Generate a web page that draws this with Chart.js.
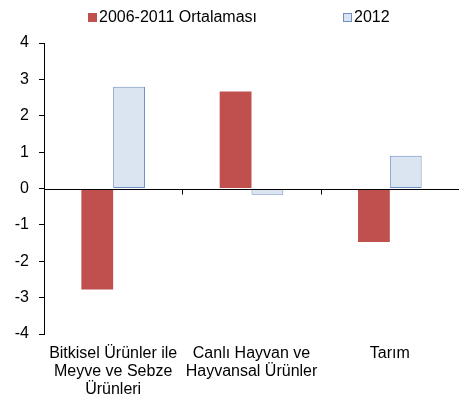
<!DOCTYPE html>
<html>
<head>
<meta charset="utf-8">
<script src="https://cdn.jsdelivr.net/npm/chart.js@4"></script>
<style>
  html, body { margin: 0; padding: 0; background: #fff; overflow: hidden; }
</style>
</head>
<body>
<canvas id="chart" width="459" height="403"></canvas>
<script>
const categories = [
  ["Bitkisel Ürünler ile", "Meyve ve Sebze", "Ürünleri"],
  ["Canlı Hayvan ve", "Hayvansal Ürünler"],
  ["Tarım"]
];
const seriesNames = ["2006-2011 Ortalaması", "2012"];
const avgValues = [-2.78, 2.67, -1.47];
const values2012 = [2.8, -0.17, 0.9];
const yTicks = [-4, -3, -2, -1, 0, 1, 2, 3, 4];

const FONT = "'Liberation Sans', Arial, sans-serif";
Chart.defaults.font.family = FONT;
Chart.defaults.font.size = 16;
Chart.defaults.color = "#000";

// legend drawn by hand so the spacing matches the original
const legendPlugin = {
  id: "topLegend",
  afterDraw(chart) {
    const ctx = chart.ctx;
    ctx.save();
    ctx.font = "16px " + FONT;
    ctx.textBaseline = "middle";
    let x = 88;
    const y = 18;
    chart.data.datasets.forEach((ds) => {
      ctx.fillStyle = ds.backgroundColor;
      ctx.fillRect(x, y - 5, 9, 9);
      if (ds.borderWidth) {
        ctx.strokeStyle = ds.borderColor;
        ctx.lineWidth = 1;
        ctx.strokeRect(x + 0.5, y - 4.5, 8, 8);
      }
      ctx.fillStyle = "#000";
      ctx.fillText(ds.label, x + 11, y);
      x += 11 + ctx.measureText(ds.label).width + 86;
    });
    ctx.restore();
  }
};

// horizontal axis line at zero with small ticks between categories
const zeroAxisPlugin = {
  id: "zeroAxis",
  afterDatasetsDraw(chart) {
    const { ctx, chartArea, scales } = chart;
    const y0 = Math.round(scales.y.getPixelForValue(0)) + 0.5;
    const step = (chartArea.right - chartArea.left) / categories.length;
    ctx.save();
    ctx.strokeStyle = "#000";
    ctx.lineWidth = 1;
    ctx.beginPath();
    ctx.moveTo(chartArea.left, y0);
    ctx.lineTo(chartArea.right, y0);
    for (let i = 1; i <= categories.length; i++) {
      const x = Math.round(chartArea.left + step * i) + 0.5;
      ctx.moveTo(x, y0);
      ctx.lineTo(x, y0 + 5);
    }
    ctx.stroke();
    ctx.restore();
  }
};

new Chart(document.getElementById("chart"), {
  type: "bar",
  data: {
    labels: categories,
    datasets: [
      {
        label: seriesNames[0],
        data: avgValues,
        backgroundColor: "#C0504D",
        borderWidth: 0
      },
      {
        label: seriesNames[1],
        data: values2012,
        backgroundColor: "#DBE5F1",
        borderColor: "#6F8FC3",
        borderWidth: 1,
        borderSkipped: false
      }
    ]
  },
  options: {
    responsive: false,
    animation: false,
    categoryPercentage: 0.46,
    barPercentage: 1,
    layout: { padding: { top: 43, right: -4, bottom: 0, left: 0 } },
    plugins: { legend: { display: false }, tooltip: { enabled: false } },
    scales: {
      x: {
        grid: { display: false, drawTicks: false },
        border: { display: false },
        ticks: {
          padding: 10,
          maxRotation: 0,
          autoSkip: false,
          font: { size: 16, lineHeight: 1.15 }
        },
        afterFit: (s) => { s.height = 69; }
      },
      y: {
        min: -4,
        max: 4,
        afterBuildTicks: (s) => { s.ticks = yTicks.map((v) => ({ value: v })); },
        ticks: { padding: 10, font: { size: 16 } },
        grid: { drawOnChartArea: false, tickLength: 5, tickColor: "#000" },
        border: { color: "#000" },
        afterFit: (s) => { s.width = 44; }
      }
    }
  },
  plugins: [zeroAxisPlugin, legendPlugin]
});
</script>
</body>
</html>
